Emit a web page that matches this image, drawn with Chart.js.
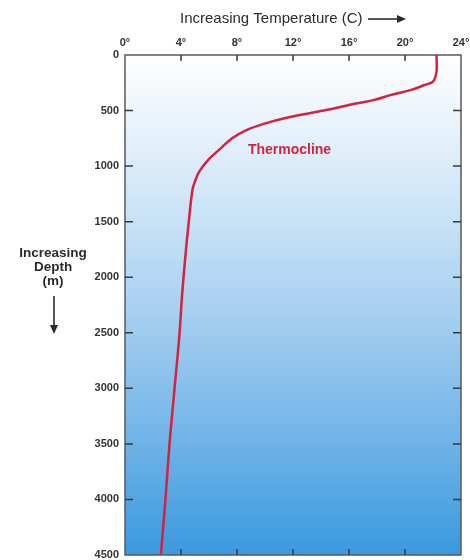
<!DOCTYPE html>
<html>
<head>
<meta charset="utf-8">
<title>Thermocline</title>
<script src="https://cdn.jsdelivr.net/npm/chart.js@4.4.1/dist/chart.umd.min.js"></script>
<style>
  html, body { margin: 0; padding: 0; background: #fff; }
  #wrap { width: 470px; height: 560px; }
</style>
</head>
<body>
<div id="wrap"><canvas id="chart"></canvas></div>
<script>
// Depth (m) and temperature (C)
const depths = [0, 150, 240, 270, 314, 359, 404, 434, 500, 560, 620, 680, 750, 850, 950, 1050, 1120, 1213, 1509, 1814, 2174, 2500, 3000, 3500, 4000, 4500];
const temps = [22.25, 22.25, 22.0, 21.4, 20.45, 19.0, 17.8, 16.6, 14.2, 11.7, 9.9, 8.6, 7.65, 6.75, 5.9, 5.3, 5.05, 4.82, 4.55, 4.31, 4.07, 3.9, 3.54, 3.18, 2.89, 2.56];

// Axis ticks
const tempTicks = [0, 4, 8, 12, 16, 20, 24];
const depthTicks = [0, 500, 1000, 1500, 2000, 2500, 3000, 3500, 4000, 4500];

// Curve label
const labelText = 'Thermocline';
const labelTemp = 11.75;
const labelDepth = 853;

const FONT = '"Liberation Sans", Arial, Helvetica, sans-serif';
const INK = '#2b2b2b';

// Blue water gradient behind the plot
const backgroundPlugin = {
  id: 'water',
  beforeDraw(chart) {
    const { ctx, chartArea: a } = chart;
    const g = ctx.createLinearGradient(0, a.top, 0, a.bottom);
    g.addColorStop(0, '#ffffff');
    g.addColorStop(0.25, '#d6e9f8');
    g.addColorStop(0.5, '#aad1f1');
    g.addColorStop(0.75, '#74b6e9');
    g.addColorStop(1, '#3b99dd');
    ctx.save();
    ctx.fillStyle = g;
    ctx.fillRect(a.left, a.top, a.right - a.left, a.bottom - a.top);
    ctx.restore();
  }
};

// Frame and the small inner tick marks on all four sides
const framePlugin = {
  id: 'frame',
  beforeDatasetsDraw(chart) {
    const { ctx, chartArea: a, scales } = chart;
    ctx.save();
    ctx.strokeStyle = '#5a5a5a';
    ctx.lineWidth = 1.5;
    ctx.strokeRect(a.left, a.top, a.right - a.left, a.bottom - a.top);

    ctx.strokeStyle = '#3a3a3a';
    ctx.beginPath();
    tempTicks.slice(1, -1).forEach(t => {
      const x = scales.x.getPixelForValue(t);
      ctx.moveTo(x, a.top); ctx.lineTo(x, a.top + 6);
      ctx.moveTo(x, a.bottom); ctx.lineTo(x, a.bottom - 6);
    });
    depthTicks.slice(1, -1).forEach(d => {
      const y = scales.y.getPixelForValue(d);
      ctx.moveTo(a.left, y); ctx.lineTo(a.left + 8, y);
      ctx.moveTo(a.right, y); ctx.lineTo(a.right - 8, y);
    });
    ctx.stroke();
    ctx.restore();
  }
};

function arrowHead(ctx, x, y, dir) {
  // dir: 'right' or 'down'
  ctx.beginPath();
  if (dir === 'right') {
    ctx.moveTo(x, y); ctx.lineTo(x - 9, y - 4); ctx.lineTo(x - 9, y + 4);
  } else {
    ctx.moveTo(x, y); ctx.lineTo(x - 4, y - 9); ctx.lineTo(x + 4, y - 9);
  }
  ctx.closePath();
  ctx.fill();
}

// Axis titles with arrows, and the curve label
const textPlugin = {
  id: 'texts',
  afterDraw(chart) {
    const { ctx, scales } = chart;
    ctx.save();
    ctx.fillStyle = INK;
    ctx.strokeStyle = INK;
    ctx.lineWidth = 1.6;

    ctx.font = '15px ' + FONT;
    ctx.textAlign = 'left';
    ctx.textBaseline = 'middle';
    ctx.fillText('Increasing Temperature (C)', 180, 19);
    ctx.beginPath();
    ctx.moveTo(368, 19); ctx.lineTo(398, 19);
    ctx.stroke();
    arrowHead(ctx, 406, 19, 'right');

    ctx.font = 'bold 13.5px ' + FONT;
    ctx.textAlign = 'center';
    ctx.fillText('Increasing', 53, 253);
    ctx.fillText('Depth', 53, 267);
    ctx.fillText('(m)', 53, 281);
    ctx.beginPath();
    ctx.moveTo(54, 296); ctx.lineTo(54, 326);
    ctx.stroke();
    arrowHead(ctx, 54, 334, 'down');

    ctx.font = 'bold 14px ' + FONT;
    ctx.fillStyle = '#d3243f';
    ctx.fillText(labelText, scales.x.getPixelForValue(labelTemp), scales.y.getPixelForValue(labelDepth));
    ctx.restore();
  }
};

new Chart(document.getElementById('chart'), {
  type: 'line',
  data: {
    datasets: [{
      data: depths.map((d, i) => ({ x: temps[i], y: d })),
      borderColor: '#d6213f',
      borderWidth: 2.5,
      pointRadius: 0,
      fill: false,
      tension: 0.35
    }]
  },
  options: {
    indexAxis: 'y',
    responsive: true,
    maintainAspectRatio: false,
    animation: false,
    layout: { padding: { top: 0, left: 0, right: 9, bottom: 5 } },
    plugins: {
      legend: { display: false },
      tooltip: { enabled: false }
    },
    scales: {
      x: {
        type: 'linear',
        position: 'top',
        min: 0,
        max: 24,
        afterBuildTicks: s => { s.ticks = tempTicks.map(v => ({ value: v })); },
        afterFit: s => { s.height = 55; s.paddingLeft = 0; s.paddingRight = 0; },
        ticks: {
          callback: v => v + '°',
          color: '#333',
          font: { family: FONT, size: 11, weight: 'bold' },
          padding: 5,
          maxRotation: 0
        },
        grid: { display: false, drawTicks: false },
        border: { display: false }
      },
      y: {
        type: 'linear',
        position: 'left',
        reverse: true,
        min: 0,
        max: 4500,
        afterBuildTicks: s => { s.ticks = depthTicks.map(v => ({ value: v })); },
        afterFit: s => { s.width = 125; s.paddingTop = 0; s.paddingBottom = 0; },
        ticks: {
          callback: v => String(v),
          color: '#333',
          font: { family: FONT, size: 11, weight: 'bold' },
          padding: 6
        },
        grid: { display: false, drawTicks: false },
        border: { display: false }
      }
    }
  },
  plugins: [backgroundPlugin, framePlugin, textPlugin]
});
</script>
</body>
</html>
